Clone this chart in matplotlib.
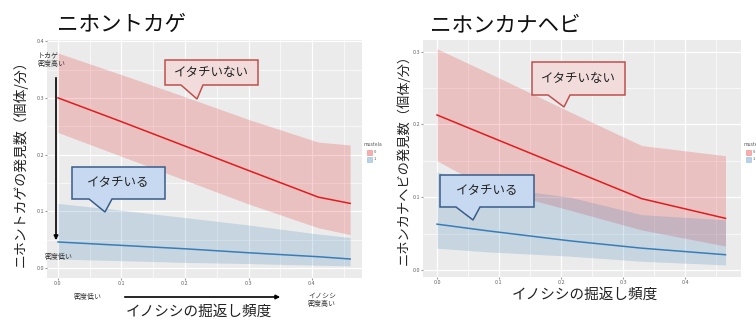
import matplotlib
matplotlib.use('Agg')
import matplotlib.pyplot as plt
from matplotlib.patches import Polygon, Rectangle, FancyArrowPatch

plt.rcParams['font.family'] = ['Noto Sans CJK JP', 'DejaVu Sans']

W, H = 756, 320

# --- data: left panel (ニホントカゲ) ---
x_left = [0.0, 0.1, 0.2, 0.3, 0.41, 0.46]
left_red_mean = [0.300, 0.258, 0.215, 0.172, 0.125, 0.114]
left_red_upper = [0.379, 0.341, 0.302, 0.262, 0.222, 0.217]
left_red_lower = [0.239, 0.197, 0.155, 0.113, 0.071, 0.059]
left_blue_mean = [0.046, 0.040, 0.034, 0.027, 0.020, 0.016]
left_blue_upper = [0.114, 0.102, 0.089, 0.076, 0.060, 0.054]
left_blue_lower = [0.016, 0.013, 0.010, 0.008, 0.005, 0.004]

# --- data: right panel (ニホンカナヘビ) ---
x_right = [0.0, 0.08, 0.215, 0.33, 0.465]
right_red_mean = [0.213, 0.185, 0.138, 0.098, 0.071]
right_red_upper = [0.304, 0.272, 0.217, 0.171, 0.157]
right_red_lower = [0.150, 0.113, 0.082, 0.055, 0.033]
right_blue_mean = [0.063, 0.054, 0.040, 0.030, 0.021]
right_blue_upper = [0.135, 0.115, 0.100, 0.076, 0.069]
right_blue_lower = [0.030, 0.025, 0.019, 0.012, 0.007]

x_ticks = [0.0, 0.1, 0.2, 0.3, 0.4]
left_y_ticks = [0.0, 0.1, 0.2, 0.3, 0.4]
right_y_ticks = [0.0, 0.1, 0.2, 0.3]
legend_levels = ['0', '1']

RED = '#E41A1C'
BLUE = '#377EB8'


def px(x, y):
    return x / W, 1 - y / H


def make_axes(fig, x0, y0, x1, y1):
    left, top = px(x0, y0)
    right, bottom = px(x1, y1)
    return fig.add_axes([left, bottom, right - left, top - bottom])


def style_axes(ax, xlim, ylim, yticks):
    ax.set_facecolor('#EBEBEB')
    ax.set_xlim(*xlim)
    ax.set_ylim(*ylim)
    ax.set_xticks(x_ticks)
    ax.set_xticklabels([f'{t:.1f}' for t in x_ticks])
    ax.set_yticks(yticks)
    ax.set_yticklabels([f'{t:.1f}' for t in yticks])
    ax.set_xticks([t + 0.05 for t in x_ticks], minor=True)
    ax.set_yticks([t + 0.05 for t in yticks[:-1]], minor=True)
    ax.grid(which='major', color='white', linewidth=0.9)
    ax.grid(which='minor', color='white', linewidth=0.45)
    ax.set_axisbelow(True)
    for s in ax.spines.values():
        s.set_visible(False)
    ax.tick_params(which='major', length=1.2, color='#999999', labelsize=4,
                   labelcolor='#666666', pad=1)
    ax.tick_params(which='minor', length=0)


def draw_panel(ax, x, rm, ru, rl, bm, bu, bl):
    ax.fill_between(x, rl, ru, color=RED, alpha=0.2, linewidth=0)
    ax.fill_between(x, bl, bu, color=BLUE, alpha=0.2, linewidth=0)
    ax.plot(x, rm, color=RED, linewidth=1.1)
    ax.plot(x, bm, color=BLUE, linewidth=1.1)


def legend(fig, x, y):
    fig.text(*px(x, y), 'mustela', fontsize=3.5, color='#555555', va='center')
    for i, (lev, col) in enumerate(zip(legend_levels, [RED, BLUE])):
        bx, by = px(x + 3, y + 7 + i * 7)
        fig.patches.append(Rectangle((bx, by - 2.5 / H), 5 / W, 5 / H,
                                     transform=fig.transFigure,
                                     facecolor=col, alpha=0.35,
                                     edgecolor=col, linewidth=0.5))
        fig.text(*px(x + 10, y + 7 + i * 7), lev, fontsize=3, color='#555555',
                 va='center')


def callout(fig, x0, y0, x1, y1, ta, tb, tip, text, face, edge):
    pts = [(x0, y0), (x1, y0), (x1, y1), (tb, y1), tip, (ta, y1), (x0, y1)]
    poly = Polygon([px(*p) for p in pts], closed=True, transform=fig.transFigure,
                   facecolor=face, edgecolor=edge, linewidth=1.1, zorder=5)
    fig.patches.append(poly)
    fig.text(*px((x0 + x1) / 2, (y0 + y1) / 2), text, fontsize=9,
             ha='center', va='center', color='#222222', zorder=6)


fig = plt.figure(figsize=(W / 100, H / 100), dpi=100)

# left panel
ax1 = make_axes(fig, 47, 40, 362, 278)
style_axes(ax1, (-0.0173, 0.4787), (-0.0175, 0.402), left_y_ticks)
draw_panel(ax1, x_left, left_red_mean, left_red_upper, left_red_lower,
           left_blue_mean, left_blue_upper, left_blue_lower)

# right panel
ax2 = make_axes(fig, 423, 40, 741, 277)
style_axes(ax2, (-0.0226, 0.490), (-0.0096, 0.316), right_y_ticks)
draw_panel(ax2, x_right, right_red_mean, right_red_upper, right_red_lower,
           right_blue_mean, right_blue_upper, right_blue_lower)

# titles
fig.text(*px(57, 25), 'ニホントカゲ', fontsize=15.5, va='center', color='#111111')
fig.text(*px(430, 25), 'ニホンカナヘビ', fontsize=15.5, va='center', color='#111111')

# axis labels
fig.text(*px(20, 160), 'ニホントカゲの発見数（個体/分）', fontsize=10, rotation=90,
         ha='center', va='center', color='#222222')
fig.text(*px(404, 156), 'ニホンカナヘビの発見数（個体/分）', fontsize=9.5, rotation=90,
         ha='center', va='center', color='#222222')
fig.text(*px(199, 312), 'イノシシの掘返し頻度', fontsize=10.5, ha='center',
         va='center', color='#222222')
fig.text(*px(585, 295), 'イノシシの掘返し頻度', fontsize=10.5, ha='center',
         va='center', color='#222222')

# density annotations
fig.text(*px(38, 60), 'トカゲ\n密度高い', fontsize=5, va='center', ha='left',
         color='#333333', linespacing=1.1)
fig.text(*px(45, 257), '密度低い', fontsize=5, va='center', ha='left', color='#333333')
fig.text(*px(74, 297), '密度低い', fontsize=5, va='center', ha='left', color='#333333')
fig.text(*px(308, 300), 'イノシシ\n密度高い', fontsize=5, va='center', ha='left',
         color='#333333', linespacing=1.1)
fig.patches.append(FancyArrowPatch(
    px(56, 75), px(56, 243), transform=fig.transFigure, arrowstyle='-|>',
    mutation_scale=6, color='black', linewidth=1.2))
fig.patches.append(FancyArrowPatch(
    px(122, 297), px(283, 297), transform=fig.transFigure, arrowstyle='-|>',
    mutation_scale=6, color='black', linewidth=1.2))

# legends
legend(fig, 364, 145)
legend(fig, 743, 145)

# callouts
PINK_FACE, PINK_EDGE = '#F2DCDB', '#C0504D'
BLUE_FACE, BLUE_EDGE = '#C6D9F1', '#385D8A'
callout(fig, 165, 60, 258, 85, 181, 203, (197, 99), 'イタチいない', PINK_FACE, PINK_EDGE)
callout(fig, 72, 167, 165, 199, 89, 112, (105, 212), 'イタチいる', BLUE_FACE, BLUE_EDGE)
callout(fig, 532, 62, 625, 95, 548, 570, (564, 107), 'イタチいない', PINK_FACE, PINK_EDGE)
callout(fig, 440, 175, 534, 207, 456, 480, (473, 220), 'イタチいる', BLUE_FACE, BLUE_EDGE)

fig.savefig('out.png', dpi=100)
